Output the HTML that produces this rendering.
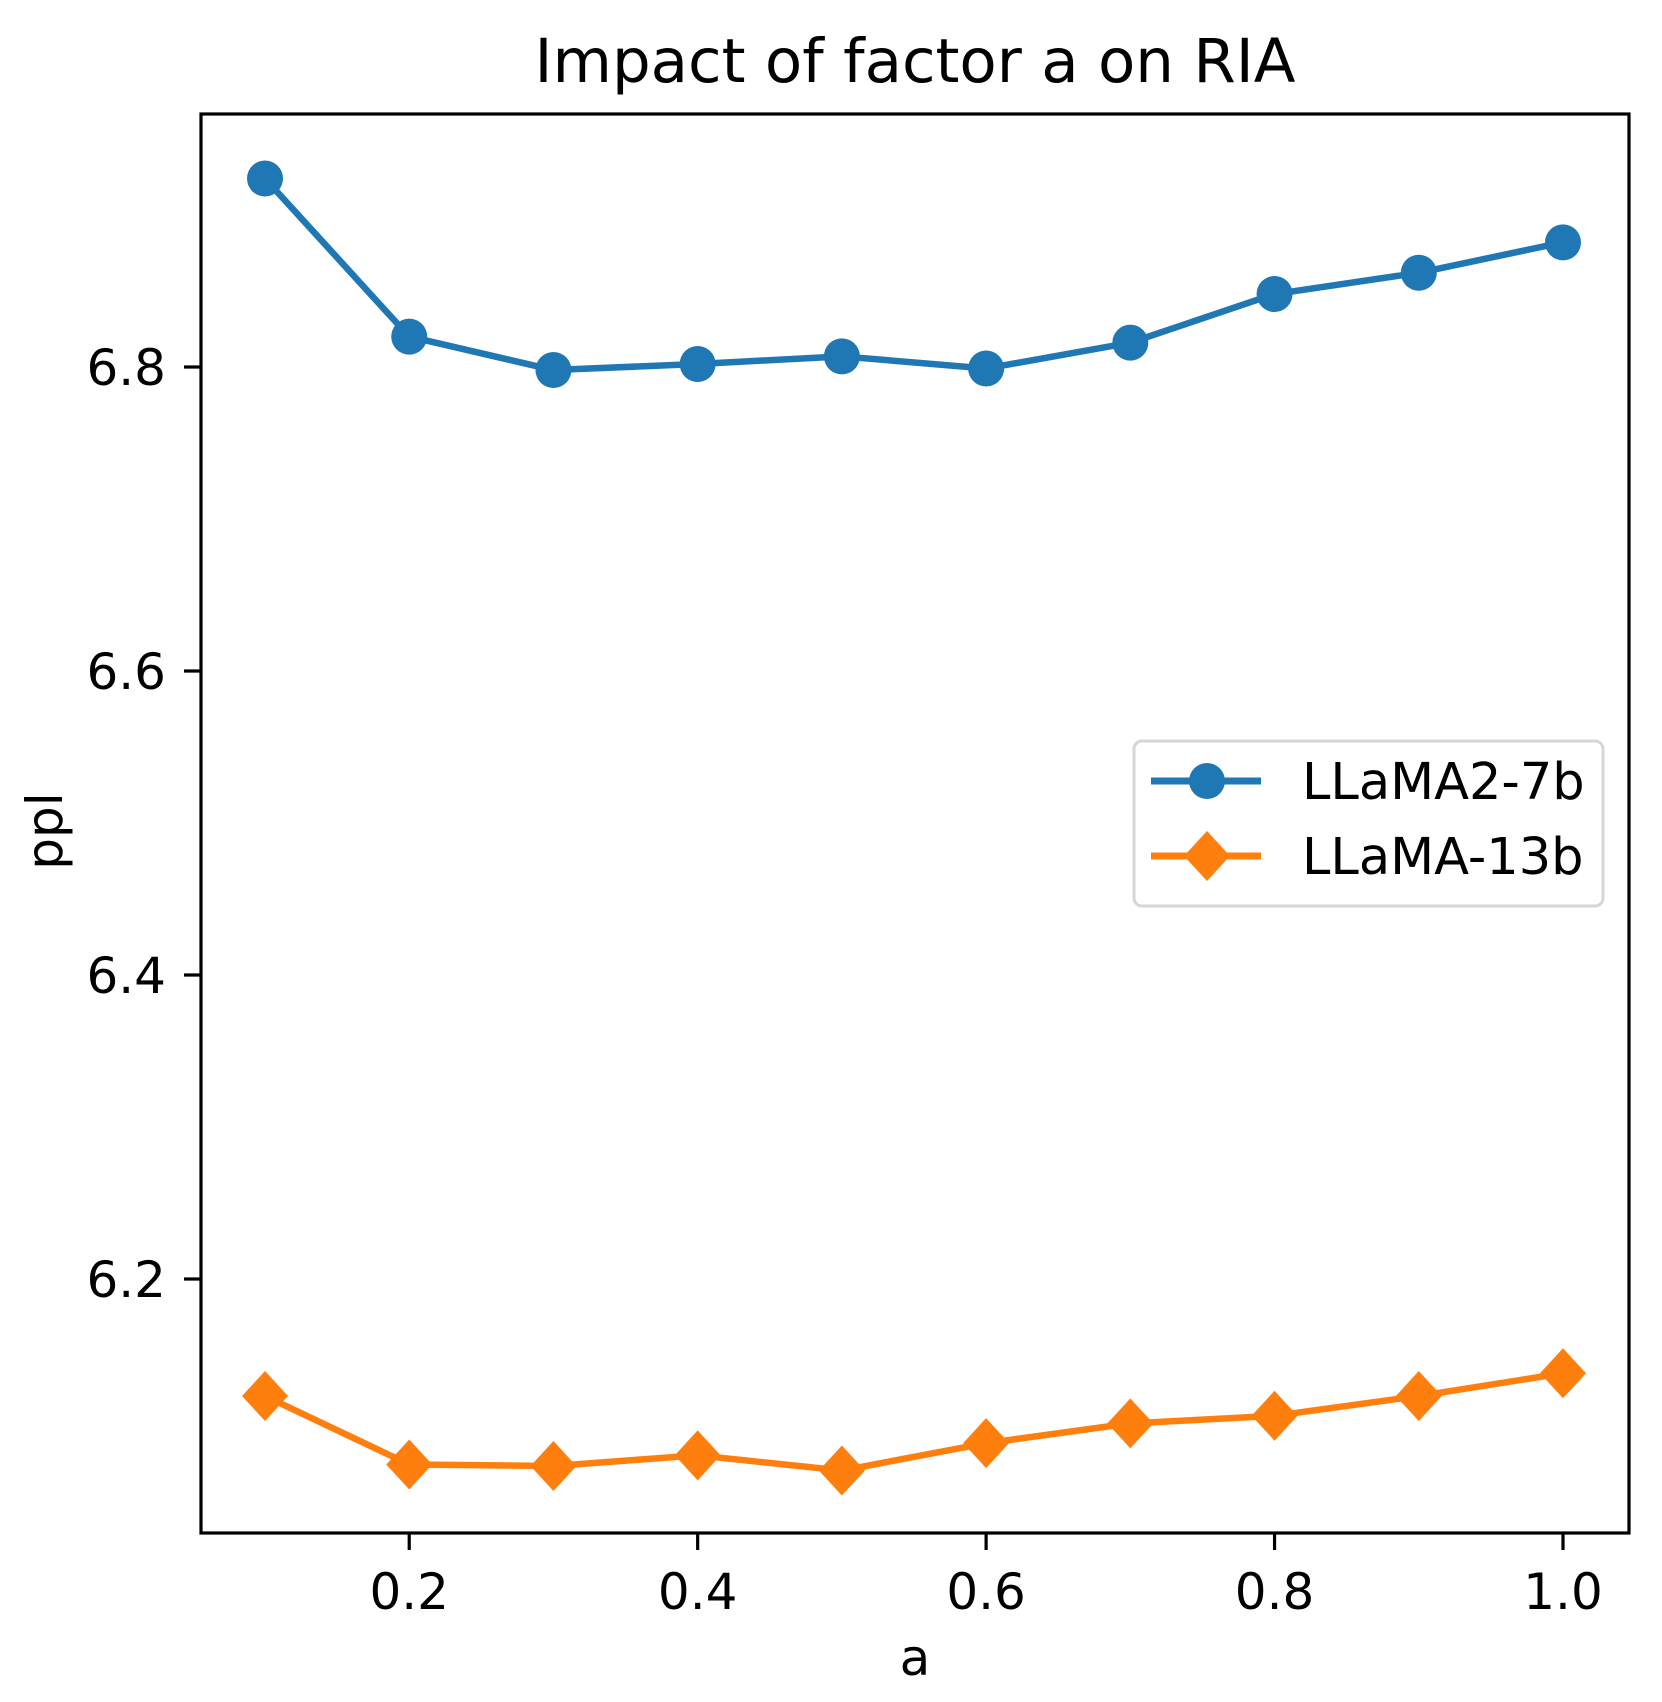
<!DOCTYPE html>
<html><head><meta charset="utf-8"><style>
html,body{margin:0;padding:0;background:#fff}
svg{display:block;font-family:"DejaVu Sans","Liberation Sans",sans-serif}
</style></head><body>
<svg id="chart" width="1662" height="1702" viewBox="0 0 1662 1702">
<text x="915" y="82" font-size="61" text-anchor="middle">Impact of factor a on RIA</text>
<g id="plot"></g>
<rect x="201" y="114" width="1428" height="1419" fill="none" stroke="#000" stroke-width="3.2"/>
<text x="915" y="1675" font-size="50" text-anchor="middle">a</text>
<text transform="translate(62,831) rotate(-90)" font-size="50" text-anchor="middle">ppl</text>
<g>
<rect x="1134" y="741" width="469" height="165" rx="8" fill="#fff" stroke="#d6d6d6" stroke-width="3"/>
<g>
<line x1="1151" y1="781" x2="1261" y2="781" stroke="#1f77b4" stroke-width="7"/>
<circle cx="1207" cy="781" r="18" fill="#1f77b4"/>
<text x="1302" y="799" font-size="51">LLaMA2-7b</text></g>
<g>
<line x1="1151" y1="856" x2="1261" y2="856" stroke="#ff7f0e" stroke-width="7"/>
<polygon points="1207,831 1230,856 1207,881 1184,856" fill="#ff7f0e"/>
<text x="1302" y="874" font-size="51">LLaMA-13b</text></g>
</g>
</svg>
<script>
const xValues=[0.1,0.2,0.3,0.4,0.5,0.6,0.7,0.8,0.9,1.0];
const llama2_7b=[6.924,6.820,6.798,6.802,6.807,6.799,6.816,6.848,6.862,6.882];
const llama_13b=[6.123,6.078,6.077,6.084,6.074,6.092,6.105,6.110,6.123,6.138];
const xTicks=[0.2,0.4,0.6,0.8,1.0];
const xTickLabels=["0.2","0.4","0.6","0.8","1.0"];
const yTicks=[6.2,6.4,6.6,6.8];
const yTickLabels=["6.2","6.4","6.6","6.8"];
const NS="http://www.w3.org/2000/svg";
const X=v=>265+(v-0.1)*(1563-265)/0.9;
const Y=v=>367+(6.8-v)*1520;
const svg=document.getElementById('chart');
const plot=document.getElementById('plot');
function mk(t,a,p){const e=document.createElementNS(NS,t);for(const k in a)e.setAttribute(k,a[k]);(p||svg).appendChild(e);return e;}
xTicks.forEach((t,i)=>{
 const l=mk('line',{x1:X(t),x2:X(t),y1:1533,y2:1550,stroke:'#000','stroke-width':3.2});
 
 
 const tx=mk('text',{x:X(t),y:1609,'font-size':50,'text-anchor':'middle'});tx.textContent=xTickLabels[i];
 
 
});
yTicks.forEach((t,i)=>{
 const l=mk('line',{x1:184,x2:201,y1:Y(t),y2:Y(t),stroke:'#000','stroke-width':3.2});
 
 
 const tx=mk('text',{x:166,y:Y(t)+18,'font-size':50,'text-anchor':'end'});tx.textContent=yTickLabels[i];
 
 
});
function series(vals,color,shape,name){
 const pts=vals.map((v,i)=>X(xValues[i])+','+Y(v)).join(' ');
 const pl=mk('polyline',{points:pts,fill:'none',stroke:color,'stroke-width':6.5,'stroke-linejoin':'round'},plot);
 
 
 vals.forEach((v,i)=>{
  const cx=X(xValues[i]),cy=Y(v);let m;
  if(shape==='circle')m=mk('circle',{cx:cx,cy:cy,r:18,fill:color},plot);
  else m=mk('polygon',{points:`${cx},${cy-25} ${cx+23},${cy} ${cx},${cy+25} ${cx-23},${cy}`,fill:color},plot);
  
  
 });
}
series(llama2_7b,'#1f77b4','circle','llama2-7b');
series(llama_13b,'#ff7f0e','diamond','llama-13b');
</script>
</body></html>
